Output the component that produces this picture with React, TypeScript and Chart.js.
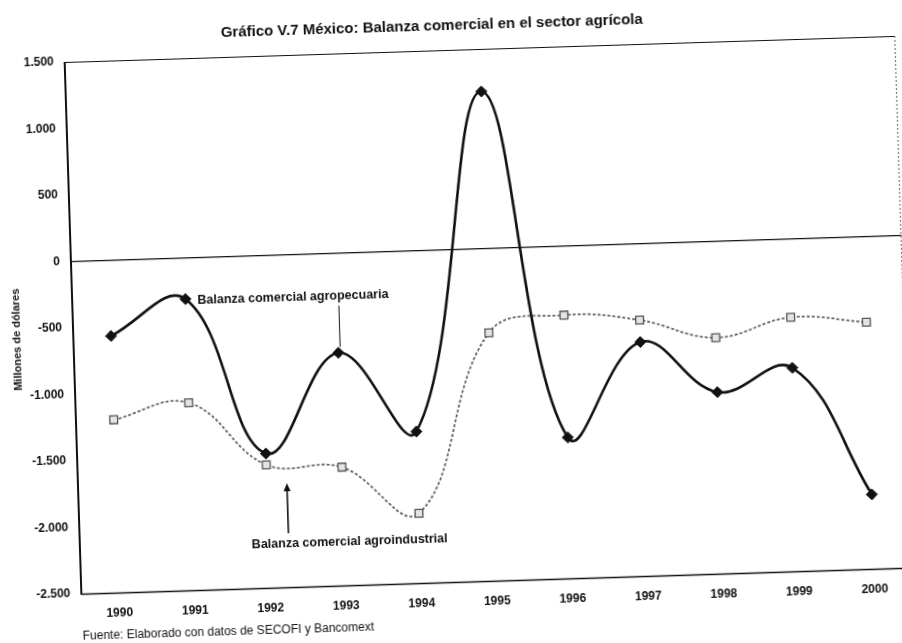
import React, { useEffect, useRef } from "react";
import { Chart, registerables } from "chart.js";

Chart.register(...registerables);

// Balanza comercial (millones de dólares), 1990-2000
const years = ["1990", "1991", "1992", "1993", "1994", "1995", "1996", "1997", "1998", "1999", "2000"];
const agropecuaria = [-570, -310, -1490, -750, -1360, 1180, -1440, -740, -1135, -970, -1940];
const agroindustrial = [-1200, -1090, -1575, -1610, -1975, -635, -520, -575, -725, -590, -645];
const yTicks = [1500, 1000, 500, 0, -500, -1000, -1500, -2000, -2500];

const titleText = "Gráfico V.7 México: Balanza comercial en el sector agrícola";
const yAxisTitle = "Millones de dólares";
const sourceText = "Fuente: Elaborado con datos de SECOFI y Bancomext";
const labelAgropecuaria = "Balanza comercial agropecuaria";
const labelAgroindustrial = "Balanza comercial agroindustrial";

const FONT = "'Liberation Sans', Arial, Helvetica, sans-serif";
const CANVAS_W = 912;
const CANVAS_H = 643;

// Thousands separator "." as in Spanish-language publications
function fmt(v: number): string {
  const s = Math.abs(v).toString().replace(/\B(?=(\d{3})+(?!\d))/g, ".");
  return (v < 0 ? "-" : "") + s;
}

const decorations = {
  id: "decorations",
  beforeDatasetsDraw(chart: any) {
    const { ctx, chartArea } = chart;
    const { left, right, top, bottom } = chartArea;
    ctx.save();
    // plot frame
    ctx.strokeStyle = "#111";
    ctx.lineWidth = 1.2;
    ctx.beginPath();
    ctx.moveTo(left, top + 0.5);
    ctx.lineTo(right, top + 0.5);
    ctx.stroke();
    ctx.lineWidth = 1.4;
    ctx.beginPath();
    ctx.moveTo(left, bottom + 0.5);
    ctx.lineTo(right, bottom + 0.5);
    ctx.stroke();
    ctx.lineWidth = 2;
    ctx.beginPath();
    ctx.moveTo(left, top);
    ctx.lineTo(left, bottom + 1);
    ctx.stroke();
    ctx.strokeStyle = "#777";
    ctx.lineWidth = 1.2;
    ctx.setLineDash([2, 2]);
    ctx.beginPath();
    ctx.moveTo(right - 0.5, top);
    ctx.lineTo(right - 0.5, bottom + 6);
    ctx.stroke();
    ctx.restore();
  },
  afterDraw(chart: any) {
    const { ctx, scales } = chart;
    const xs = scales.x;
    const ys = scales.y;
    ctx.save();
    ctx.fillStyle = "#111";
    ctx.strokeStyle = "#111";

    // title
    ctx.font = `bold 15px ${FONT}`;
    ctx.textAlign = "center";
    ctx.textBaseline = "middle";
    ctx.fillText(titleText, 441, 26);

    // y axis title
    ctx.save();
    ctx.translate(17, 326);
    ctx.rotate(-Math.PI / 2);
    ctx.font = `bold 11px ${FONT}`;
    ctx.fillText(yAxisTitle, 0, 0);
    ctx.restore();

    // source note
    ctx.font = `12px ${FONT}`;
    ctx.textAlign = "left";
    ctx.fillText(sourceText, 73, 625);

    // label for the agropecuaria series, with a leader line down to 1993
    const yLab1 = ys.getPixelForValue(-320);
    ctx.font = `bold 12.5px ${FONT}`;
    ctx.textAlign = "left";
    ctx.fillText(labelAgropecuaria, xs.getPixelForValue(1) + 12, yLab1);
    const xLead = xs.getPixelForValue(3) + 2;
    ctx.lineWidth = 1;
    ctx.beginPath();
    ctx.moveTo(xLead, yLab1 + 10);
    ctx.lineTo(xLead, ys.getPixelForValue(agropecuaria[3]) - 6);
    ctx.stroke();

    // label for the agroindustrial series, with an arrow pointing up
    const yLab2 = ys.getPixelForValue(-2175);
    ctx.fillText(labelAgroindustrial, xs.getPixelForValue(2) - 17, yLab2);
    const xArrow = xs.getPixelForValue(2) + 20;
    const yTip = ys.getPixelForValue(-1718);
    const yTail = ys.getPixelForValue(-2094);
    ctx.lineWidth = 1.6;
    ctx.beginPath();
    ctx.moveTo(xArrow, yTail);
    ctx.lineTo(xArrow, yTip + 5);
    ctx.stroke();
    ctx.beginPath();
    ctx.moveTo(xArrow, yTip);
    ctx.lineTo(xArrow - 3.5, yTip + 8);
    ctx.lineTo(xArrow + 3.5, yTip + 8);
    ctx.closePath();
    ctx.fill();

    ctx.restore();
  },
};

export default function App() {
  const canvasRef = useRef<HTMLCanvasElement | null>(null);

  useEffect(() => {
    const canvas = canvasRef.current;
    if (!canvas) return;
    const chart = new Chart(canvas, {
      type: "line",
      data: {
        labels: years,
        datasets: [
          {
            label: labelAgropecuaria,
            data: agropecuaria,
            borderColor: "#111",
            borderWidth: 2.6,
            tension: 0.4,
            pointStyle: "rectRot",
            pointRadius: 5.5,
            pointBackgroundColor: "#111",
            pointBorderColor: "#111",
            pointBorderWidth: 1,
          },
          {
            label: labelAgroindustrial,
            data: agroindustrial,
            borderColor: "#666",
            borderWidth: 1.8,
            borderDash: [3, 2],
            tension: 0.4,
            pointStyle: "rect",
            pointRadius: 5.5,
            pointBackgroundColor: "#e4e4e4",
            pointBorderColor: "#555",
            pointBorderWidth: 1.3,
          },
        ],
      },
      options: {
        responsive: false,
        animation: false,
        devicePixelRatio: 1,
        layout: { padding: { top: 50, right: CANVAS_W - 904, bottom: 0, left: 0 } },
        plugins: {
          legend: { display: false },
          tooltip: { enabled: false },
          title: { display: false },
        },
        scales: {
          x: {
            type: "category",
            offset: true,
            grid: { display: false, drawTicks: false },
            border: { display: false },
            ticks: {
              padding: 13,
              color: "#111",
              font: { family: FONT, size: 12, weight: "bold" },
              maxRotation: 0,
              autoSkip: false,
            },
            afterFit: (s: any) => {
              s.height = CANVAS_H - 582;
            },
          },
          y: {
            min: -2500,
            max: 1500,
            afterBuildTicks: (s: any) => {
              s.ticks = yTicks.map((v) => ({ value: v }));
            },
            grid: {
              drawTicks: false,
              color: (c: any) => (c.tick && c.tick.value === 0 ? "#111" : "rgba(0,0,0,0)"),
              lineWidth: 1.3,
            },
            border: { display: false },
            ticks: {
              padding: 11,
              color: "#111",
              font: { family: FONT, size: 12, weight: "bold" },
              callback: (v: any) => fmt(Number(v)),
            },
            afterFit: (s: any) => {
              s.width = 73;
            },
          },
        },
      },
      plugins: [decorations],
    });
    return () => chart.destroy();
  }, []);

  return (
    <div
      style={{
        position: "fixed",
        left: 0,
        top: 0,
        width: 902,
        height: 643,
        overflow: "hidden",
        background: "#fff",
      }}
    >
      <canvas
        ref={canvasRef}
        width={CANVAS_W}
        height={CANVAS_H}
        style={{
          position: "absolute",
          left: 0,
          top: 0,
          width: CANVAS_W,
          height: CANVAS_H,
          transform: "rotate(-1.8deg)",
          transformOrigin: "451px 321.5px",
        }}
      />
    </div>
  );
}
